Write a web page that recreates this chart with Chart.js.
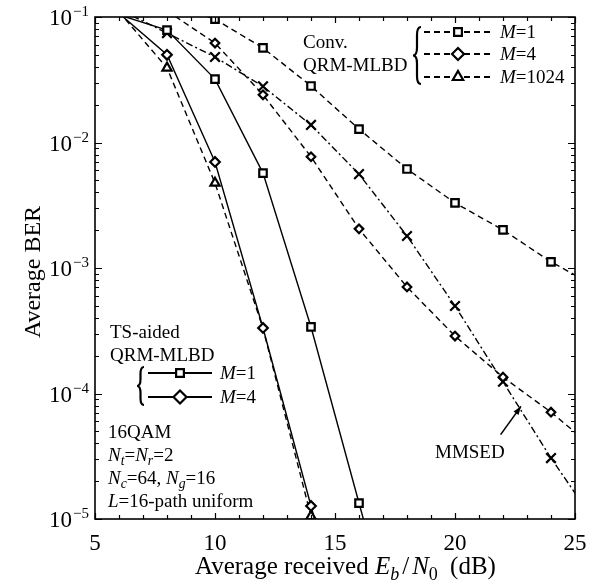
<!DOCTYPE html>
<html><head><meta charset="utf-8">
<script src="https://cdn.jsdelivr.net/npm/chart.js@4.4.1/dist/chart.umd.min.js"></script>
<style>html,body{margin:0;padding:0;background:#fff;}</style>
</head><body>
<canvas id="c" width="592" height="580"></canvas>
<script>
// ---- data (Eb/N0 in dB, BER) ----
const convX      = [8, 10, 12, 14, 16, 18, 20, 22, 24, 26];
const convM1     = [0.13, 0.096, 0.0567, 0.0282, 0.0128, 0.00615, 0.0033, 0.00201, 0.00112, 0.00069];
const convM4     = [0.112, 0.062, 0.024, 0.0077, 0.00205, 0.000706, 0.000287, 0.000135, 0.000071, 0.000034];
const convM1024X = [6, 8, 10, 12, 14, 16];
const convM1024  = [0.11, 0.0393, 0.00475, 0.00033, 0.0000105, 0.0000003];
const tsM1X      = [6, 8, 10, 12, 14, 16, 18];
const tsM1       = [0.104, 0.0787, 0.032, 0.0057, 0.000339, 0.0000134, 0.00000054];
const tsM4X      = [6, 8, 10, 12, 14, 16];
const tsM4       = [0.107, 0.050, 0.0070, 0.000333, 0.0000127, 0.0000005];
const mmsedX     = [6, 8, 10, 12, 14, 16, 18, 20, 22, 24, 26];
const mmsed      = [0.115, 0.0745, 0.048, 0.028, 0.0138, 0.0056, 0.0018, 0.000498, 0.000124, 0.0000306, 0.0000085];
const xTicks     = [5, 10, 15, 20, 25];
const yDecades   = [-5, -4, -3, -2, -1];

const SERIF = '"Liberation Serif", "Times New Roman", serif';
const pts = (xs, ys) => xs.map((x, i) => ({x, y: ys[i]}));
const inRange = v => v <= 0.1001 && v >= 0.0000099;
const rad = r => ctx => (ctx.raw && inRange(ctx.raw.y)) ? r : 0;

function ds(data, dash, style, r, extra) {
  return Object.assign({
    data, borderColor: '#000', borderWidth: 1.4, borderDash: dash,
    pointStyle: style, pointRadius: rad(r), pointBorderWidth: 2.2,
    pointBackgroundColor: '#fff', pointBorderColor: '#000',
    tension: 0, fill: false, showLine: true
  }, extra || {});
}

const DASH = [6, 4];
const DASHDOT = [7, 3, 2, 3];

function partFont(p, size) {
  const s = p.sub ? size * 0.72 : size;
  return (p.it ? 'italic ' : '') + s + 'px ' + SERIF;
}
function richWidth(ctx, parts, size) {
  let w = 0;
  for (const p of parts) { ctx.font = partFont(p, size); w += ctx.measureText(p.t).width + (p.gap || 0); }
  return w;
}
function drawRich(ctx, x, y, parts, size, align) {
  const w = richWidth(ctx, parts, size);
  let cx = align === 'center' ? x - w / 2 : (align === 'right' ? x - w : x);
  ctx.textAlign = 'left';
  ctx.textBaseline = 'alphabetic';
  for (const p of parts) {
    ctx.font = partFont(p, size);
    ctx.fillText(p.t, cx, y + (p.sub ? size * 0.22 : 0));
    cx += ctx.measureText(p.t).width + (p.gap || 0);
  }
}
function brace(ctx, x, y1, y2, w) {
  const ym = (y1 + y2) / 2;
  ctx.beginPath();
  ctx.moveTo(x + w, y1);
  ctx.quadraticCurveTo(x + w / 2, y1, x + w / 2, y1 + w);
  ctx.lineTo(x + w / 2, ym - w);
  ctx.quadraticCurveTo(x + w / 2, ym, x, ym);
  ctx.quadraticCurveTo(x + w / 2, ym, x + w / 2, ym + w);
  ctx.lineTo(x + w / 2, y2 - w);
  ctx.quadraticCurveTo(x + w / 2, y2, x + w, y2);
  ctx.stroke();
}
function marker(ctx, style, x, y, r) {
  Chart.helpers.drawPoint(ctx, {pointStyle: style, radius: r, borderWidth: 2.2, rotation: 0}, x, y);
}
function legendRow(ctx, x1, x2, y, dash, style, r, label, size) {
  ctx.save();
  ctx.strokeStyle = '#000'; ctx.lineWidth = 2; ctx.setLineDash(dash);
  ctx.beginPath(); ctx.moveTo(x1, y); ctx.lineTo(x2, y); ctx.stroke();
  ctx.setLineDash([]);
  ctx.fillStyle = '#fff'; ctx.strokeStyle = '#000'; ctx.lineWidth = 2.2;
  marker(ctx, style, (x1 + x2) / 2, y, r);
  ctx.fillStyle = '#000';
  drawRich(ctx, x2 + 8, y + 6, label, size, 'left');
  ctx.restore();
}

const decor = {
  id: 'decor',
  afterDraw(chart) {
    const {ctx, chartArea: a, scales: {x, y}} = chart;
    ctx.save();
    ctx.strokeStyle = '#000'; ctx.fillStyle = '#000';
    // frame
    ctx.lineWidth = 1.6;
    ctx.strokeRect(a.left, a.top, a.right - a.left, a.bottom - a.top);
    // y ticks (log, inward on left and right)
    ctx.lineWidth = 1.2;
    for (const k of yDecades) {
      for (let m = 1; m <= 9; m++) {
        const v = m * Math.pow(10, k);
        if (v > 0.1001) continue;
        const py = Math.round(y.getPixelForValue(v)) + 0.5;
        const L = m === 1 ? 7 : 4;
        ctx.beginPath();
        ctx.moveTo(a.left, py); ctx.lineTo(a.left + L, py);
        ctx.moveTo(a.right, py); ctx.lineTo(a.right - L, py);
        ctx.stroke();
      }
    }
    // x ticks every 1 dB
    for (let v = 5; v <= 25; v++) {
      const px = Math.round(x.getPixelForValue(v)) + 0.5;
      const L = v % 5 === 0 ? 6 : 4;
      ctx.beginPath();
      ctx.moveTo(px, a.bottom); ctx.lineTo(px, a.bottom - L);
      ctx.moveTo(px, a.top); ctx.lineTo(px, a.top + L);
      ctx.stroke();
    }
    // y tick labels
    for (const k of yDecades) {
      const py = y.getPixelForValue(Math.pow(10, k));
      ctx.textBaseline = 'alphabetic'; ctx.textAlign = 'right';
      ctx.font = '15px ' + SERIF;
      const sup = '\u2212' + (-k);
      const sw = ctx.measureText(sup).width;
      const rx = a.left - 6;
      ctx.fillText(sup, rx, py - 1);
      ctx.font = '23px ' + SERIF;
      ctx.fillText('10', rx - sw - 1, py + 8);
    }
    // x tick labels
    ctx.font = '23px ' + SERIF; ctx.textAlign = 'center'; ctx.textBaseline = 'alphabetic';
    for (const v of xTicks) ctx.fillText(String(v), x.getPixelForValue(v), a.bottom + 31);
    // axis titles
    drawRich(ctx, x.getPixelForValue(10) - 20, a.bottom + 55, [
      {t: 'Average received '}, {t: 'E', it: true}, {t: 'b', it: true, sub: true, gap: 3},
      {t: '/', gap: 3}, {t: 'N', it: true}, {t: '0', sub: true, gap: 6}, {t: ' (dB)'}], 25, 'left');
    ctx.save();
    ctx.translate(34, (a.top + a.bottom) / 2 + 4);
    ctx.rotate(-Math.PI / 2);
    ctx.font = '24px ' + SERIF; ctx.textAlign = 'center'; ctx.textBaseline = 'middle';
    ctx.fillText('Average BER', 0, 0);
    ctx.restore();

    // annotations: conventional QRM-MLBD legend
    const fs = 19;
    drawRich(ctx, 303, 48, [{t: 'Conv.'}], fs, 'left');
    drawRich(ctx, 303, 71, [{t: 'QRM-MLBD'}], fs, 'left');
    ctx.lineWidth = 2.2;
    brace(ctx, 413, 27, 84, 8);
    legendRow(ctx, 424, 492, 32, DASH, 'rect', 5.5, [{t: 'M', it: true}, {t: '=1'}], fs);
    legendRow(ctx, 424, 492, 54, DASH, 'rectRot', 6, [{t: 'M', it: true}, {t: '=4'}], fs);
    legendRow(ctx, 424, 492, 77, DASH, 'triangle', 6, [{t: 'M', it: true}, {t: '=1024'}], fs);

    // TS-aided legend
    drawRich(ctx, 110, 338, [{t: 'TS-aided'}], fs, 'left');
    drawRich(ctx, 110, 361, [{t: 'QRM-MLBD'}], fs, 'left');
    ctx.lineWidth = 2.2;
    brace(ctx, 137, 367, 405, 7);
    legendRow(ctx, 148, 212, 373, [], 'rect', 5.5, [{t: 'M', it: true}, {t: '=1'}], fs);
    legendRow(ctx, 148, 212, 397, [], 'rectRot', 6.5, [{t: 'M', it: true}, {t: '=4'}], fs);

    // parameters
    drawRich(ctx, 108, 438, [{t: '16QAM'}], fs, 'left');
    drawRich(ctx, 108, 461, [{t: 'N', it: true}, {t: 't', it: true, sub: true}, {t: '='}, {t: 'N', it: true}, {t: 'r', it: true, sub: true}, {t: '=2'}], fs, 'left');
    drawRich(ctx, 108, 484, [{t: 'N', it: true}, {t: 'c', it: true, sub: true}, {t: '=64, '}, {t: 'N', it: true}, {t: 'g', it: true, sub: true}, {t: '=16'}], fs, 'left');
    drawRich(ctx, 108, 507, [{t: 'L', it: true}, {t: '=16-path uniform'}], fs, 'left');

    // MMSED label + arrow
    drawRich(ctx, 435, 458, [{t: 'MMSED'}], fs, 'left');
    const tx = x.getPixelForValue(21.9), ty = y.getPixelForValue(4.7e-5);
    const hx = x.getPixelForValue(22.75), hy = y.getPixelForValue(7.9e-5);
    ctx.lineWidth = 1.6;
    ctx.beginPath(); ctx.moveTo(tx, ty); ctx.lineTo(hx, hy); ctx.stroke();
    const ang = Math.atan2(hy - ty, hx - tx);
    ctx.beginPath();
    ctx.moveTo(hx, hy);
    ctx.lineTo(hx - 9 * Math.cos(ang - 0.35), hy - 9 * Math.sin(ang - 0.35));
    ctx.lineTo(hx - 9 * Math.cos(ang + 0.35), hy - 9 * Math.sin(ang + 0.35));
    ctx.closePath(); ctx.fill();
    ctx.restore();
  }
};

new Chart(document.getElementById('c'), {
  type: 'line',
  data: {
    datasets: [
      ds(pts(tsM1X, tsM1), [], 'rect', 5.3),
      ds(pts(tsM4X, tsM4), [], 'rectRot', 4.8),
      ds(pts(convX, convM1), DASH, 'rect', 5.3),
      ds(pts(convX, convM4), DASH, 'rectRot', 4.3),
      ds(pts(convM1024X, convM1024), DASH, 'triangle', 5.3, {
        pointRadius: ctx => (ctx.raw && inRange(ctx.raw.y) && ctx.raw.x !== 12) ? 5.3 : 0 }),
      ds(pts(mmsedX, mmsed), DASHDOT, 'crossRot', 6.8)
    ]
  },
  options: {
    responsive: false, animation: false, devicePixelRatio: 1, events: [],
    layout: {padding: {left: 95, right: 17, top: 17, bottom: 61}},
    plugins: {legend: {display: false}, tooltip: {enabled: false}},
    scales: {
      x: {type: 'linear', min: 5, max: 25, display: false},
      y: {type: 'logarithmic', min: 1e-5, max: 1e-1, display: false}
    }
  },
  plugins: [decor]
});
</script>
</body></html>
